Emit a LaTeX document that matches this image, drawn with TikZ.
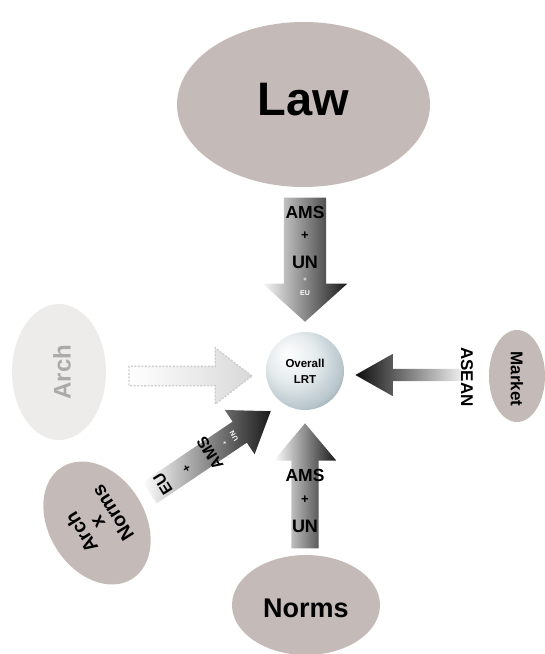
\documentclass[tikz,border=0pt]{standalone}
\usepackage{fontspec}
\setmainfont{Liberation Sans}
\usetikzlibrary{shapes.geometric,shapes.arrows}

\definecolor{taupe}{RGB}{196,187,185}
\definecolor{mist}{RGB}{237,236,235}
\definecolor{ash}{RGB}{172,170,169}
\definecolor{orbhi}{RGB}{228,234,236}
\definecolor{orbmid}{RGB}{184,198,204}
\definecolor{orbrim}{RGB}{98,116,124}
\definecolor{orbdark}{RGB}{52,66,72}

\pgfdeclareradialshading{pearl}{\pgfpoint{-12bp}{12bp}}{%
  color(0bp)=(white); color(16bp)=(orbhi); color(29bp)=(orbmid);
  color(40bp)=(orbrim); color(50bp)=(orbdark)}

\newcommand{\sz}[1]{\fontsize{#1}{#1}\selectfont}

\tikzset{
  blob/.style={ellipse, fill=taupe, inner sep=0pt},
  flow/.style={single arrow, single arrow head indent=0pt, inner xsep=0pt, anchor=tip},
  tag/.style={font=\bfseries, inner sep=0pt},
}

\begin{document}
\begin{tikzpicture}[x=1pt, y=-1pt]
    \useasboundingbox (0,0) rectangle (545,654);

    % sources
    \node[blob, minimum width=253pt, minimum height=165pt, label={[tag, yshift=4.5pt, font=\bfseries\sz{47}]center:Law}] (law) at (303.5,104.5) {};
    \node[blob, minimum width=148pt, minimum height=100pt, label={[tag, yshift=-3.5pt, font=\bfseries\sz{27}]center:Norms}] (norms) at (306,605) {};
    \node[blob, fill=mist, minimum width=94pt, minimum height=136pt, label={[tag, rotate=90, yshift=-3pt, text=ash, font=\bfseries\sz{24}]center:Arch}] (arch) at (59,372) {};
    \node[blob, minimum width=56pt, minimum height=92pt, label={[tag, rotate=-90, xshift=3pt, font=\bfseries\sz{17}]center:Market}] (market) at (517,376) {};
    \node[blob, rotate=122, minimum width=132pt, minimum height=96pt, align=center, font=\bfseries\fontsize{19.5}{18.5}\selectfont] (mixed) at (97,523) {Arch\\x\\Norms};

    % arrows
    \node[flow, rotate=-90, minimum height=124pt, inner ysep=21pt, single arrow head extend=21pt, single arrow tip angle=96, left color=gray!6, right color=black!90] (lawflow) at (305,322) {};
    \node[flow, rotate=90, minimum height=125pt, inner ysep=13.5pt, single arrow head extend=17.5pt, single arrow tip angle=80, left color=white, right color=black!90] (normsflow) at (305,423) {};
    \node[flow, rotate=34, minimum height=146pt, inner ysep=12.5pt, single arrow head extend=14pt, single arrow tip angle=71, left color=white, right color=black!90] (mixedflow) at (271,411) {};
    \node[flow, rotate=180, minimum height=107pt, inner ysep=6pt, single arrow head extend=15pt, single arrow tip angle=59, left color=black!95, right color=gray!12] (marketflow) at (355,375) {};
    \node[flow, minimum height=123pt, inner ysep=9pt, single arrow head extend=18.5pt, single arrow tip angle=75, left color=white, right color=gray!30, draw=gray!40, line width=1.3pt, dash pattern=on 2pt off 1.5pt] (archflow) at (253,376) {};

    % centre
    \node[circle, minimum size=78pt, shading=pearl, align=center, font=\bfseries\fontsize{11.5}{16}\selectfont] (lrt) at (305,371) {Overall\\LRT};

    % labels on the arrows
    \node[tag, font=\bfseries\sz{17.5}] (lawams) at (305,212) {AMS};
    \node[tag, font=\bfseries\sz{13}] (lawplus) at (305,236) {+};
    \node[tag, font=\bfseries\sz{18}] (lawun) at (305,262) {UN};
    \node[tag, text=white, font=\bfseries\sz{6}] (lawplusb) at (305,280) {+};
    \node[tag, text=white, font=\bfseries\sz{7}] (laweu) at (305,293) {EU};

    \node[tag, font=\bfseries\sz{17.5}] (normsams) at (305,475) {AMS};
    \node[tag, font=\bfseries\sz{13}] (normsplus) at (305,500) {+};
    \node[tag, font=\bfseries\sz{18}] (normsun) at (305,526) {UN};

    \node[tag, rotate=122, font=\bfseries\sz{16}] (mixedeu) at (163,484) {EU};
    \node[tag, rotate=122, font=\bfseries\sz{12}] (mixedplus) at (187,468) {+};
    \node[tag, rotate=122, font=\bfseries\sz{16}] (mixedams) at (210,453) {AMS};
    \node[tag, rotate=122, text=white, font=\bfseries\sz{6}] (mixedplusb) at (225,443) {+};
    \node[tag, rotate=122, text=white, font=\bfseries\sz{7}] (mixedun) at (234,436) {UN};

    \node[tag, rotate=-90, font=\bfseries\sz{17}] (asean) at (467,377) {ASEAN};
\end{tikzpicture}
\end{document}
